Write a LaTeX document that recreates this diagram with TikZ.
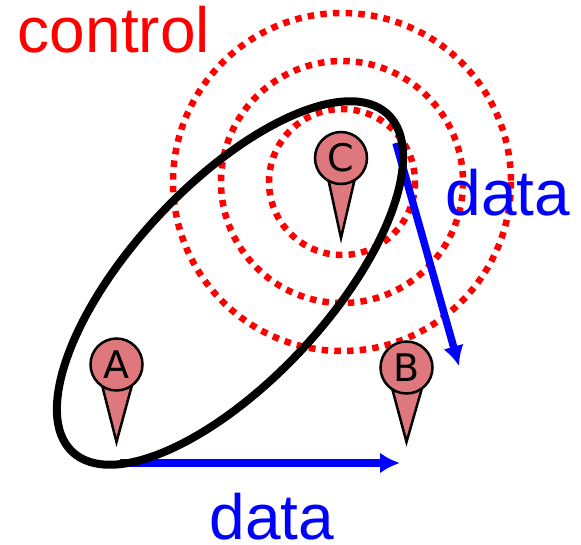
\documentclass[tikz,border=0pt]{standalone}
\usepackage{fontspec}
\setmainfont{Liberation Sans}
\newfontfamily\pinfont{DejaVu Sans}
\usetikzlibrary{positioning, arrows.meta, calc}
\definecolor{pinfill}{RGB}{222,120,125}

\begin{document}
\begin{tikzpicture}[
      x=1pt, y=-1pt,
      pinhead/.style={
        draw=black,
        circle,
        line width=2.5pt,
        fill=pinfill,
        minimum size=52pt,
        inner sep=0pt,
        font=\pinfont\fontsize{38}{38}\selectfont
      },
      pintail/.style={
        draw=black,
        line width=2.5pt,
        fill=pinfill
      },
      ring/.style={
        draw=red,
        line width=6.5pt,
        dash pattern=on 6.5pt off 6.2pt
      },
      arrow/.style={
        -{Latex[length=20pt,width=21pt]},
        line width=7.5pt,
        blue
      },
      redlabel/.style={
        text=red,
        inner sep=0pt,
        font=\fontsize{64}{64}\selectfont
      },
      bluelabel/.style={
        text=blue,
        inner sep=0pt,
        font=\fontsize{64}{64}\selectfont
      }
    ]
    \useasboundingbox (0,0) rectangle (581,544);

    % rings round C
    \coordinate (centre) at (342,182);
    \draw[ring] (centre) circle (73);
    \draw[ring] (centre) circle (121);
    \draw[ring] (centre) circle (169);

    % pins
    \draw[pintail] (328,178) -- (341,238) -- (355,178) -- cycle;
    \node[pinhead] (pinC) at (341,158) {C};
    \draw[pintail] (102,385) -- (116.5,442) -- (132,385) -- cycle;
    \node[pinhead] (pinA) at (116.5,364.5) {A};
    \draw[pintail] (392,388) -- (406.5,442) -- (422,388) -- cycle;
    \node[pinhead] (pinB) at (406.5,367.5) {B};

    % arrows
    \coordinate (startA) at (120,463);
    \coordinate (endA) at (400,463);
    \coordinate (startC) at (396,143);
    \coordinate (endC) at (459,366);
    \draw[arrow] (startA) -- (endA);
    \draw[arrow] (startC) -- (endC);

    % ellipse
    \draw[black, line width=8pt, rotate around={47:(230,283)}] (230,283) ellipse (231 and 98);

    % labels
    \node[redlabel] (control) at (114,30) {control};
    \node[bluelabel] (dataC) at (508,193) {data};
    \node[bluelabel] (dataA) at (272,517) {data};

    \end{tikzpicture}
\end{document}
